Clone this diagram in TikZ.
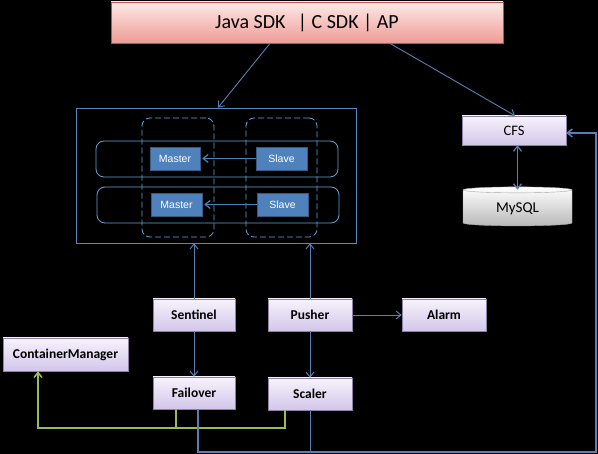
\documentclass[tikz,border=0pt]{standalone}
\usepackage{fontspec}
\setmainfont{Carlito}
\newfontfamily\arialfont{Liberation Sans}
\usetikzlibrary{shapes.geometric,arrows.meta}

\definecolor{linkblue}{HTML}{5B7FB5}
\definecolor{repblue}{HTML}{4F81BD}
\definecolor{frameblue}{HTML}{5A86C0}
\definecolor{dashblue}{HTML}{5EA6D8}
\definecolor{busgreen}{HTML}{9BBB59}
\definecolor{sdktop}{HTML}{FDE9E7}
\definecolor{sdkbot}{HTML}{EE9C96}
\definecolor{sdkedge}{HTML}{C0504D}
\definecolor{proctop}{HTML}{F7F3FC}
\definecolor{procbot}{HTML}{D3C6EA}
\definecolor{procedge}{HTML}{8E82A6}

\tikzset{
    sdkbox/.style={draw=sdkedge,top color=sdktop,bottom color=sdkbot,line width=0.8pt,
                   font=\fontsize{20}{22}\selectfont},
    procbox/.style={draw=procedge,top color=proctop,bottom color=procbot,line width=0.6pt,
                    font=\bfseries\fontsize{13.5}{15}\selectfont},
    repbox/.style={draw=repblue!70!black,fill=repblue,text=white,line width=0.5pt,
                   font=\arialfont\fontsize{10.5}{12}\selectfont},
    groupbox/.style={draw=dashblue,rounded corners=8pt,line width=0.8pt},
    link/.style={draw=linkblue,line width=0.9pt,-{Straight Barb[length=5pt,width=8pt]}},
    replink/.style={draw=repblue,line width=1.2pt,-{Straight Barb[length=5pt,width=8pt]}},
    greenlink/.style={draw=busgreen,line width=1.5pt,-{Straight Barb[length=5pt,width=8pt]}}
}

\begin{document}
\begin{tikzpicture}[x=1pt,y=-1pt]
        \fill[black] (0,0) rectangle (598,454);
        \useasboundingbox (0,0) rectangle (598,454);

        \node (sdk)       at (307,22.5)  [sdkbox,minimum height=41pt,minimum width=392pt] {Java SDK\ \ \,| C SDK | AP};

        % Redis cluster
        \node (cluster)   at (216,175.5) [draw=frameblue,line width=0.6pt,minimum height=135pt,minimum width=280pt] {};
        \node (colA)      at (178,177.5) [groupbox,dash pattern=on 6pt off 3pt,minimum height=119pt,minimum width=72pt] {};
        \node (colB)      at (281.5,177.5) [groupbox,dash pattern=on 6pt off 3pt,minimum height=119pt,minimum width=71pt] {};
        \node (rowA)      at (217,159)   [groupbox,minimum height=36pt,minimum width=242pt] {};
        \node (rowB)      at (218,205)   [groupbox,minimum height=36pt,minimum width=242pt] {};

        \node (masterA)   at (175,158.5)   [repbox,minimum height=23pt,minimum width=50pt] {Master};
        \node (slaveA)    at (281.5,158.5) [repbox,minimum height=23pt,minimum width=51pt] {Slave};
        \node (masterB)   at (176.5,204.5) [repbox,minimum height=23pt,minimum width=51pt] {Master};
        \node (slaveB)    at (282.5,204.5) [repbox,minimum height=23pt,minimum width=51pt] {Slave};

        % Config store
        \node (cfs)       at (514,130.5) [procbox,font=\fontsize{14.5}{16}\selectfont,minimum height=29pt,minimum width=104pt] {CFS};
        \node (mysql)     at (517.5,208.5) [cylinder,shape border rotate=90,aspect=0.12,draw=gray!70,
                                            top color=white,bottom color=gray!55,
                                            font=\fontsize{15}{17}\selectfont,
                                            minimum height=39pt,minimum width=109pt] {MySQL};

        % Management processes
        \node (sentinel)  at (194,315)   [procbox,minimum height=32pt,minimum width=82pt] {Sentinel};
        \node (pusher)    at (310,315)   [procbox,minimum height=32pt,minimum width=84pt] {Pusher};
        \node (alarm)     at (444,315)   [procbox,minimum height=32pt,minimum width=84pt] {Alarm};
        \node (container) at (65.5,354.5) [procbox,minimum height=33pt,minimum width=125pt] {ContainerManager};
        \node (failover)  at (194,393)   [procbox,minimum height=32pt,minimum width=82pt] {Failover};
        \node (scaler)    at (310,394)   [procbox,minimum height=32pt,minimum width=84pt] {Scaler};

        \coordinate (greenbus) at (0,428);
        \coordinate (bluebus)  at (596,452);
        \coordinate (cmin)     at ([xshift=-27.5pt]container.south);

        % Client arrows
        \draw[link] ([xshift=-37pt]sdk.south) -- ([xshift=2pt]cluster.north);
        \draw[link] ([xshift=83pt]sdk.south) -- ([xshift=1pt]cfs.north);
        \draw[link,line width=1.2pt,arrows={Straight Barb[length=5pt,width=8pt]-Straight Barb[length=5pt,width=8pt]}]
            (mysql.north |- cfs.south) -- ([yshift=-3pt]mysql.north);

        % Replication arrows
        \foreach \s/\m in {slaveA/masterA,slaveB/masterB}
            \draw[replink] (\s.west) -- ([xshift=2pt]\m.east);

        % Process arrows
        \foreach \x in {sentinel,pusher}
            \draw[link] (\x.north) -- (\x.north |- cluster.south);
        \draw[link] (sentinel) -- (failover);
        \draw[link] (pusher) -- (scaler);
        \draw[link] (pusher) -- (alarm);

        % Container manager bus
        \draw[greenlink] ([xshift=-25pt]scaler.south) |- (cmin |- greenbus) -- (cmin);
        \draw[greenlink,-] ([xshift=-18pt]failover.south) -- ([xshift=-18pt]failover.south |- greenbus);

        % Config update bus
        \draw[link,line width=1.4pt] ([xshift=4pt]failover.south) |- (bluebus) |- ([yshift=-2.5pt]cfs.east);
        \draw[link,-] (scaler.south) -- (scaler.south |- bluebus);
    \end{tikzpicture}
\end{document}
